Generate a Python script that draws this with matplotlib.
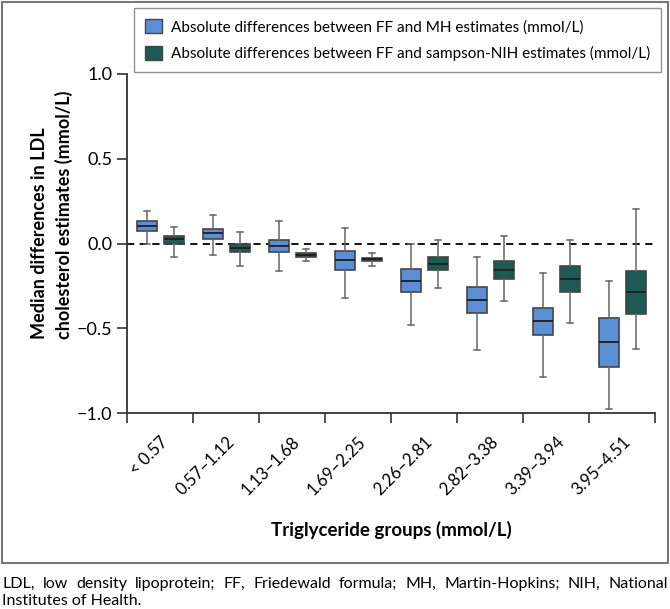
import matplotlib.pyplot as plt
from matplotlib.patches import Patch, Rectangle

plt.rcParams['font.family'] = ['Lato', 'DejaVu Sans']

groups = ['< 0.57', '0.57–1.12', '1.13–1.68', '1.69–2.25',
          '2.26–2.81', '2.82–3.38', '3.39–3.94', '3.95–4.51']

# box stats per group: lower whisker, q1, median, q3, upper whisker
mh_low = [0.0, -0.065, -0.163, -0.32, -0.48, -0.629, -0.787, -0.974]
mh_q1 = [0.075, 0.028, -0.051, -0.156, -0.288, -0.41, -0.538, -0.728]
mh_med = [0.105, 0.061, -0.014, -0.10, -0.219, -0.331, -0.46, -0.584]
mh_q3 = [0.13, 0.083, 0.022, -0.045, -0.152, -0.254, -0.38, -0.44]
mh_high = [0.19, 0.17, 0.13, 0.093, 0.0, -0.079, -0.174, -0.219]

nih_low = [-0.077, -0.13, -0.106, -0.134, -0.262, -0.339, -0.469, -0.625]
nih_q1 = [0.0, -0.053, -0.079, -0.105, -0.158, -0.209, -0.288, -0.416]
nih_med = [0.024, -0.025, -0.067, -0.093, -0.12, -0.158, -0.209, -0.286]
nih_q3 = [0.047, 0.0, -0.055, -0.083, -0.081, -0.106, -0.134, -0.16]
nih_high = [0.10, 0.067, -0.03, -0.057, 0.022, 0.045, 0.018, 0.203]

mh_color = '#5b8fd4'
nih_color = '#1b5b54'

caption1 = 'LDL, low density lipoprotein; FF, Friedewald formula; MH, Martin-Hopkins; NIH, National'
caption2 = 'Institutes of Health.'


def make_stats(low, q1, med, q3, high):
    stats = []
    for i in range(len(low)):
        stats.append({'whislo': low[i], 'q1': q1[i], 'med': med[i],
                      'q3': q3[i], 'whishi': high[i], 'fliers': []})
    return stats


fig = plt.figure(figsize=(6.7, 6.09), dpi=100)
ax = fig.add_axes([127 / 670, 1 - 413 / 609, 528 / 670, 339 / 609])

centers = [i + 0.5 for i in range(len(groups))]

for stats, color, shift in [(make_stats(mh_low, mh_q1, mh_med, mh_q3, mh_high), mh_color, -0.2),
                            (make_stats(nih_low, nih_q1, nih_med, nih_q3, nih_high), nih_color, 0.21)]:
    ax.bxp(stats, positions=[c + shift for c in centers], widths=0.3,
           capwidths=0.1, patch_artist=True, showfliers=False,
           boxprops=dict(facecolor=color, edgecolor='#444444', linewidth=1.2),
           medianprops=dict(color='#1f1f1f', linewidth=1.3),
           whiskerprops=dict(color='#666666', linewidth=1.1),
           capprops=dict(color='#666666', linewidth=1.1),
           manage_ticks=False)

ax.axhline(0, color='black', linestyle=(0, (4, 3)), linewidth=1.3, zorder=0)

ax.set_xlim(0, 8)
ax.set_ylim(-1.0, 1.0)
ax.set_yticks([-1.0, -0.5, 0.0, 0.5, 1.0])
ax.set_yticklabels(['−1.0', '−0.5', '0.0', '0.5', '1.0'])
ax.set_xticks(range(9))
ax.set_xticklabels([])
ax.set_xticks(centers, minor=True)
ax.set_xticklabels(groups, minor=True, rotation=45, ha='right',
                   rotation_mode='anchor', fontsize=12)
ax.tick_params(axis='x', which='minor', length=0, pad=15)
ax.tick_params(axis='both', which='major', length=7, width=1.2,
               color='#333333', labelsize=13)
for side in ['top', 'right']:
    ax.spines[side].set_visible(False)
for side in ['left', 'bottom']:
    ax.spines[side].set_color('#333333')
    ax.spines[side].set_linewidth(1.3)

fig.text(52 / 670, 1 - 215 / 609,
         'Median differences in LDL\ncholesterol estimates (mmol/L)',
         rotation=90, ha='center', va='center', multialignment='left',
         fontsize=13, fontweight='bold', linespacing=1.45)
fig.text(391 / 670, 1 - 530 / 609, 'Triglyceride groups (mmol/L)',
         ha='center', va='center', fontsize=13.5, fontweight='bold')

handles = [Patch(facecolor=mh_color, edgecolor='#444444'),
           Patch(facecolor=nih_color, edgecolor='#444444')]
labels = ['Absolute differences between FF and MH estimates (mmol/L)',
          'Absolute differences between FF and sampson-NIH estimates (mmol/L)']
leg = fig.legend(handles, labels, loc='upper right',
                 bbox_to_anchor=(661 / 670, 1 - 8 / 609), borderaxespad=0,
                 fontsize=11, fancybox=False, edgecolor='#777777',
                 handlelength=1.1, handleheight=1.1, handletextpad=0.6,
                 labelspacing=0.75, borderpad=0.7)
leg.get_frame().set_linewidth(1.0)

# outer frame around the chart
fig.patches.append(Rectangle((2 / 670, 1 - 563 / 609), 666 / 670, 561 / 609,
                             transform=fig.transFigure, fill=False,
                             edgecolor='#777777', linewidth=1.5))

# justified first caption line
renderer = fig.canvas.get_renderer()
words = caption1.split(' ')
word_texts = []
total = 0
for w in words:
    t = fig.text(0, 1 - 584 / 609, w, ha='left', va='center', fontsize=11.5)
    total += t.get_window_extent(renderer).width
    word_texts.append(t)
gap = (666 - total) / (len(words) - 1)
x = 2
for t in word_texts:
    t.set_x(x / 670)
    x += t.get_window_extent(renderer).width + gap
fig.text(2 / 670, 1 - 601 / 609, caption2, ha='left', va='center', fontsize=11.5)

fig.savefig('out.png', dpi=100)
